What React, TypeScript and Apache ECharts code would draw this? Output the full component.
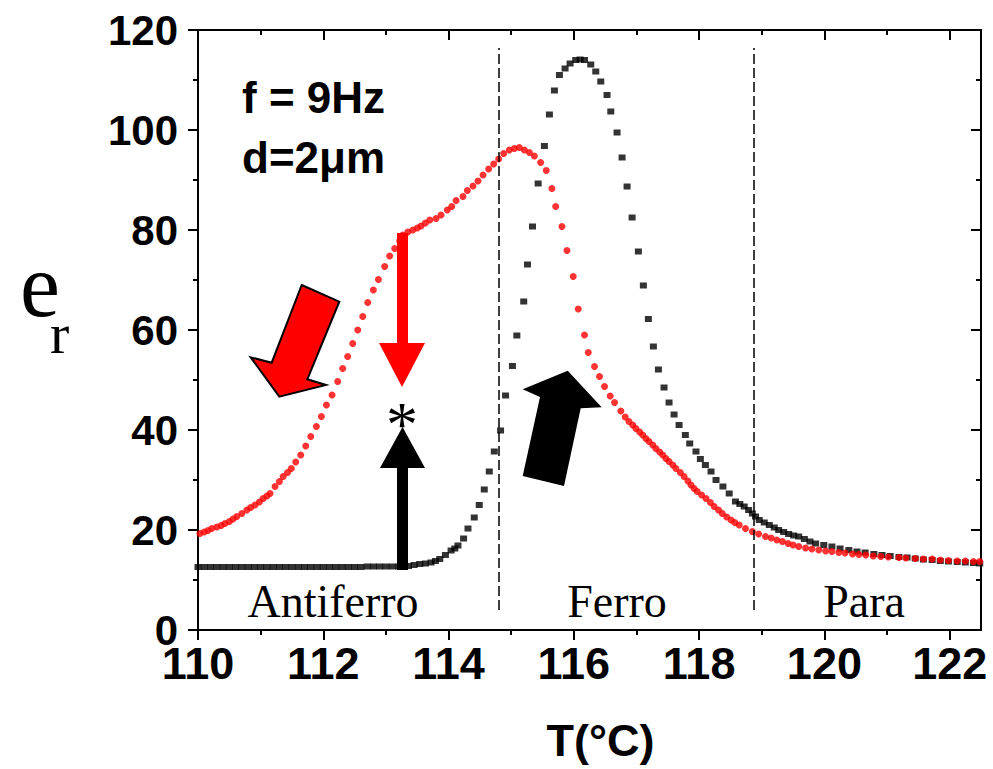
import React, { useEffect, useRef } from "react";
import * as echarts from "echarts";

// ---- data ----
const xMajorTicks = [110, 112, 114, 116, 118, 120, 122];
const xMinorTicks = [111, 113, 115, 117, 119, 121];
const regionNames = ["Antiferro", "Ferro", "Para"];
const boundaries = [114.8, 118.88];

const blackT = [
  110.0, 110.1, 110.2, 110.3, 110.4, 110.5, 110.6, 110.7, 110.8, 110.9,
  111.0, 111.1, 111.2, 111.3, 111.4, 111.5, 111.6, 111.7, 111.8, 111.9,
  112.0, 112.1, 112.2, 112.3, 112.4, 112.5, 112.6, 112.7, 112.8, 112.9,
  113.0, 113.1, 113.2, 113.27, 113.36, 113.45, 113.54, 113.63, 113.72, 113.79,
  113.86, 113.95, 114.04, 114.1, 114.15, 114.24, 114.31, 114.41, 114.49, 114.57,
  114.65, 114.73, 114.83, 114.91, 115.02, 115.09, 115.2, 115.26, 115.34, 115.43,
  115.53, 115.61, 115.69, 115.77, 115.86, 115.94, 116.03, 116.1, 116.17, 116.27,
  116.35, 116.43, 116.53, 116.59, 116.69, 116.77, 116.85, 116.93, 117.03, 117.11,
  117.19, 117.27, 117.35, 117.44, 117.52, 117.6, 117.68, 117.78, 117.85, 117.95,
  118.02, 118.1, 118.19, 118.27, 118.38, 118.48, 118.58, 118.65, 118.72, 118.79,
  118.85, 118.9, 118.96, 119.04, 119.12, 119.2, 119.27, 119.35, 119.43, 119.51,
  119.59, 119.68, 119.77, 119.86, 119.99, 120.12, 120.25, 120.39, 120.52, 120.65,
  120.79, 120.92, 121.05, 121.19, 121.32, 121.45, 121.58, 121.72, 121.85, 121.98,
  122.12, 122.25, 122.38, 122.48,
];
const blackV = [
  12.6, 12.6, 12.6, 12.6, 12.6, 12.6, 12.6, 12.6, 12.6, 12.6,
  12.6, 12.6, 12.6, 12.6, 12.6, 12.6, 12.6, 12.6, 12.6, 12.6,
  12.6, 12.6, 12.6, 12.6, 12.6, 12.6, 12.6, 12.7, 12.7, 12.7,
  12.7, 12.7, 12.7, 12.7, 12.8, 13.0, 13.2, 13.3, 13.5, 13.8,
  14.2, 15.0, 15.9, 16.3, 16.9, 18.3, 20.3, 22.5, 25.0, 28.1,
  31.7, 35.7, 39.9, 46.9, 52.8, 58.9, 65.7, 73.1, 80.7, 89.3,
  96.8, 103.1, 107.9, 111.0, 112.3, 113.3, 114.0, 114.1, 114.0, 113.1,
  111.7, 109.7, 107.0, 103.7, 99.5, 94.5, 88.7, 82.5, 75.7, 68.9,
  62.2, 56.7, 52.1, 48.5, 45.5, 43.1, 41.0, 39.0, 37.3, 35.7,
  34.2, 33.0, 31.7, 30.0, 28.7, 27.3, 25.7, 25.2, 24.7, 24.0,
  23.3, 22.7, 22.0, 21.5, 21.0, 20.5, 20.0, 19.6, 19.2, 18.9,
  18.7, 18.2, 17.7, 17.3, 17.0, 16.7, 16.3, 16.0, 15.7, 15.5,
  15.2, 15.0, 14.8, 14.6, 14.5, 14.3, 14.1, 14.0, 13.8, 13.7,
  13.6, 13.5, 13.4, 13.3,
];

const redT = [
  110.03, 110.1, 110.16, 110.22, 110.3, 110.37, 110.43, 110.5, 110.56, 110.62,
  110.7, 110.78, 110.84, 110.91, 110.98, 111.04, 111.1, 111.15, 111.23, 111.3,
  111.36, 111.43, 111.49, 111.56, 111.64, 111.72, 111.8, 111.89, 111.97, 112.05,
  112.14, 112.23, 112.31, 112.39, 112.47, 112.55, 112.63, 112.71, 112.8, 112.88,
  112.98, 113.06, 113.14, 113.22, 113.27, 113.35, 113.43, 113.5, 113.56, 113.63,
  113.7, 113.8, 113.88, 113.98, 114.05, 114.12, 114.23, 114.3, 114.39, 114.47,
  114.55, 114.64, 114.72, 114.8, 114.88, 114.97, 115.05, 115.13, 115.21, 115.29,
  115.37, 115.47, 115.56, 115.65, 115.71, 115.81, 115.89, 115.99, 116.07, 116.17,
  116.23, 116.33, 116.41, 116.49, 116.58, 116.65, 116.75, 116.82, 116.88, 116.94,
  116.99, 117.05, 117.1, 117.15, 117.2, 117.26, 117.31, 117.37, 117.42, 117.47,
  117.52, 117.58, 117.63, 117.7, 117.76, 117.82, 117.87, 117.92, 117.97, 118.04,
  118.11, 118.18, 118.24, 118.31, 118.37, 118.44, 118.51, 118.57, 118.64, 118.74,
  118.85, 118.95, 119.06, 119.15, 119.24, 119.33, 119.42, 119.5, 119.59, 119.7,
  119.8, 119.91, 120.02, 120.12, 120.23, 120.33, 120.45, 120.55, 120.66, 120.78,
  120.9, 121.02, 121.19, 121.3, 121.45, 121.58, 121.72, 121.85, 121.98, 122.12,
  122.25, 122.38, 122.48,
];
const redV = [
  19.3, 19.6, 19.9, 20.3, 20.6, 20.9, 21.3, 21.7, 22.2, 22.7,
  23.3, 24.0, 24.5, 25.0, 25.6, 26.3, 26.8, 27.3, 28.7, 29.7,
  30.7, 31.5, 32.3, 33.6, 35.0, 36.8, 38.7, 40.7, 42.7, 45.0,
  47.0, 49.7, 52.3, 54.7, 57.3, 60.0, 62.7, 65.5, 68.0, 70.1,
  72.7, 74.8, 76.3, 77.8, 79.0, 79.6, 80.0, 80.4, 80.8, 81.4,
  82.0, 82.3, 83.0, 84.0, 84.7, 85.9, 86.7, 87.9, 88.8, 89.8,
  91.0, 92.2, 93.2, 94.2, 95.3, 96.0, 96.3, 96.5, 96.0, 95.5,
  94.8, 93.5, 91.9, 88.3, 84.7, 80.7, 75.9, 70.7, 64.2, 59.0,
  55.5, 52.7, 50.7, 48.7, 46.8, 45.5, 43.8, 42.6, 41.7, 41.0,
  40.3, 39.6, 39.0, 38.3, 37.7, 37.0, 36.3, 35.6, 35.0, 34.3,
  33.7, 33.0, 32.3, 31.5, 30.7, 29.8, 29.0, 28.3, 27.7, 27.0,
  26.3, 25.5, 24.7, 24.0, 23.3, 22.6, 22.0, 21.5, 21.0, 20.3,
  19.7, 19.2, 18.7, 18.4, 18.0, 17.7, 17.3, 17.0, 16.7, 16.4,
  16.2, 16.0, 15.8, 15.7, 15.5, 15.4, 15.2, 15.1, 15.0, 14.8,
  14.7, 14.6, 14.5, 14.4, 14.3, 14.2, 14.2, 14.0, 13.9, 13.8,
  13.8, 13.7, 13.7,
];

const SANS = '"Liberation Sans", Arial, sans-serif';
const SERIF = '"Liberation Serif", "Times New Roman", serif';

export default function App() {
  const ref = useRef<HTMLDivElement>(null);

  useEffect(() => {
    document.body.style.margin = "0";
    const chart = echarts.init(ref.current!, null, { renderer: "svg" });

    const black = blackT.map((t, i) => [t, blackV[i]]);
    const red = redT.map((t, i) => [t, redV[i]]);

    const axisLineStyle = { color: "#000", width: 2 };
    const baseX = {
      type: "value",
      min: 110,
      max: 122.5,
      splitLine: { show: false },
      axisLine: { show: true, onZero: false, lineStyle: axisLineStyle },
    };

    const option: any = {
      animation: false,
      backgroundColor: "#fff",
      grid: { left: 198, right: 12, top: 30, bottom: 139, containLabel: false, outerBoundsMode: "none" },
      xAxis: [
        {
          ...baseX,
          position: "bottom",
          axisTick: { show: true, customValues: xMajorTicks, length: 10, lineStyle: axisLineStyle },
          axisLabel: {
            show: true,
            customValues: xMajorTicks,
            margin: 16,
            lineHeight: 34,
            color: "#000",
            fontFamily: SANS,
            fontWeight: "bold",
            fontSize: 45,
          },
          name: "T(°C)",
          nameLocation: "middle",
          nameGap: 88,
          nameTextStyle: {
            color: "#000",
            fontFamily: SANS,
            fontWeight: "bold",
            fontSize: 45,
            padding: [0, 0, 0, 22],
          },
        },
        {
          ...baseX,
          position: "bottom",
          axisLine: { show: false, onZero: false },
          axisTick: { show: true, customValues: xMinorTicks, length: 5, lineStyle: axisLineStyle },
          axisLabel: { show: false },
        },
        {
          ...baseX,
          position: "top",
          axisTick: { show: true, inside: true, customValues: xMajorTicks, length: 10, lineStyle: axisLineStyle },
          axisLabel: { show: false },
        },
        {
          ...baseX,
          position: "top",
          axisLine: { show: false, onZero: false },
          axisTick: { show: true, inside: true, customValues: xMinorTicks, length: 5, lineStyle: axisLineStyle },
          axisLabel: { show: false },
        },
      ],
      yAxis: [
        {
          type: "value",
          min: 0,
          max: 120,
          interval: 20,
          position: "left",
          splitLine: { show: false },
          axisLine: { show: true, onZero: false, lineStyle: axisLineStyle },
          axisTick: { show: true, length: 10, lineStyle: axisLineStyle },
          minorTick: { show: true, splitNumber: 2, length: 5, lineStyle: axisLineStyle },
          axisLabel: {
            color: "#000",
            fontFamily: SANS,
            fontWeight: "bold",
            fontSize: 42,
            lineHeight: 32,
            margin: 20,
          },
        },
        {
          type: "value",
          min: 0,
          max: 120,
          interval: 20,
          position: "right",
          splitLine: { show: false },
          axisLine: { show: true, onZero: false, lineStyle: axisLineStyle },
          axisTick: { show: true, inside: true, length: 10, lineStyle: axisLineStyle },
          minorTick: { show: true, splitNumber: 2, length: 5, lineStyle: axisLineStyle },
          axisLabel: { show: false },
        },
      ],
      series: [
        {
          type: "scatter",
          name: "heating",
          data: black,
          symbol: "rect",
          symbolSize: [7, 6],
          itemStyle: { color: "#000" },
          silent: true,
          z: 3,
        },
        {
          type: "scatter",
          name: "cooling",
          data: red,
          symbol: "circle",
          symbolSize: 7,
          itemStyle: { color: "#ff0000" },
          silent: true,
          z: 4,
          markLine: {
            silent: true,
            symbol: ["none", "none"],
            label: { show: false },
            lineStyle: { color: "#000", width: 1.5, type: [10, 4] },
            data: boundaries.map((b) => [{ coord: [b, 4] }, { coord: [b, 116.4] }]),
          },
        },
      ],
      graphic: [
        // e_r axis title (one rich text: "e" with subscript "r")
        {
          type: "text",
          x: 20,
          y: 285,
          style: {
            text: "{e|e}{r|r}",
            fill: "#000",
            align: "left",
            verticalAlign: "middle",
            rich: {
              e: { fontFamily: SERIF, fontSize: 90, lineHeight: 90, fill: "#000" },
              r: { fontFamily: SERIF, fontSize: 58, lineHeight: 58, fill: "#000", padding: [96, 0, 0, -10] },
            },
          },
        },
        // annotation texts
        {
          type: "text",
          x: 242,
          y: 97,
          style: { text: "f = 9Hz", font: `bold 44px ${SANS}`, fill: "#000", align: "left", verticalAlign: "middle" },
        },
        {
          type: "text",
          x: 242,
          y: 157,
          style: { text: "d=2μm", font: `bold 44px ${SANS}`, fill: "#000", align: "left", verticalAlign: "middle" },
        },
        {
          type: "text",
          x: 333,
          y: 601,
          style: { text: regionNames[0], font: `46px ${SERIF}`, fill: "#000", align: "center", verticalAlign: "middle" },
        },
        {
          type: "text",
          x: 617,
          y: 601,
          style: { text: regionNames[1], font: `46px ${SERIF}`, fill: "#000", align: "center", verticalAlign: "middle" },
        },
        {
          type: "text",
          x: 864,
          y: 601,
          style: { text: regionNames[2], font: `46px ${SERIF}`, fill: "#000", align: "center", verticalAlign: "middle" },
        },
        // asterisk
        {
          type: "text",
          x: 402,
          y: 424,
          style: { text: "*", font: `64px ${SERIF}`, fill: "#000", align: "center", verticalAlign: "middle" },
        },
        // red vertical arrow (down)
        { type: "rect", shape: { x: 397, y: 233, width: 11, height: 112 }, style: { fill: "#ff0000" } },
        {
          type: "polygon",
          shape: { points: [[379, 343], [425, 343], [402, 387]] },
          style: { fill: "#ff0000" },
        },
        // black vertical arrow (up)
        { type: "rect", shape: { x: 397, y: 466, width: 11, height: 104 }, style: { fill: "#000" } },
        {
          type: "polygon",
          shape: { points: [[380, 468], [425, 468], [402.5, 427]] },
          style: { fill: "#000" },
        },
        // big red block arrow (cooling)
        {
          type: "polygon",
          shape: {
            points: [
              [301.7, 285],
              [339.3, 301.7],
              [307.3, 379.3],
              [326, 385],
              [279.3, 396.7],
              [250.7, 357.3],
              [271.7, 362.7],
            ],
          },
          style: { fill: "#ff0000", stroke: "#000", lineWidth: 2, lineJoin: "miter" },
        },
        // big black block arrow (heating)
        {
          type: "polygon",
          shape: {
            points: [
              [567.7, 370.7],
              [601.7, 407.3],
              [580.7, 408.3],
              [564, 486],
              [522.7, 476],
              [540, 397],
              [522.7, 389.3],
            ],
          },
          style: { fill: "#000" },
        },
      ],
    };

    chart.setOption(option);
    return () => chart.dispose();
  }, []);

  return <div ref={ref} style={{ width: 993, height: 769 }} />;
}
